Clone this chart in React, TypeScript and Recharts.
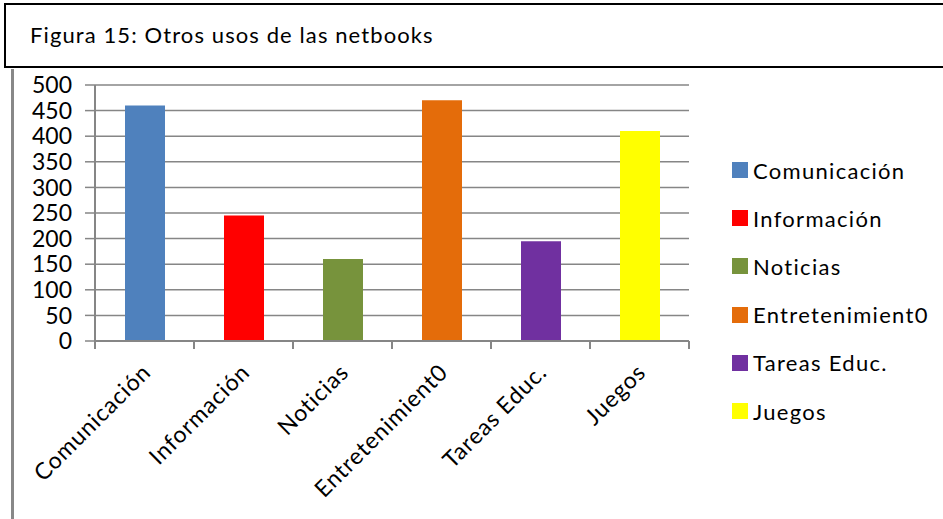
import { BarChart, Bar, XAxis, YAxis, CartesianGrid, Cell } from "recharts";

const CATEGORIES = ["Comunicación", "Información", "Noticias", "Entretenimient0", "Tareas Educ.", "Juegos"];
const VALUES = [460, 245, 160, 470, 195, 410];
const COLORS = ["#4F81BD", "#FF0000", "#77933C", "#E46C0A", "#7030A0", "#FFFF00"];
const Y_TICKS = [0, 50, 100, 150, 200, 250, 300, 350, 400, 450, 500];

const GRID = "#868686";
const FONT = "Lato, 'Open Sans', sans-serif";

const data = CATEGORIES.map((name, i) => ({ name, value: VALUES[i] }));

// Excel style: tick marks sit on the category boundaries, labels turned 45°
function XTick(props: any) {
  const { x, y, payload, index } = props;
  const off = payload?.offset ?? 49.5;
  const last = index === CATEGORIES.length - 1;
  return (
    <g>
      <line x1={x - off} x2={x - off} y1={y - 8} y2={y} stroke={GRID} strokeWidth={2} />
      {last && <line x1={x + off} x2={x + off} y1={y - 8} y2={y} stroke={GRID} strokeWidth={2} />}
      <text
        transform={`translate(${x - 4},${y + 13}) rotate(-45)`}
        textAnchor="end"
        dy="0.72em"
        fontSize={23}
        letterSpacing={0.9}
        fontFamily={FONT}
        fill="#000"
      >
        {payload.value}
      </text>
    </g>
  );
}

export default function App() {
  return (
    <div style={{ position: "absolute", left: 0, top: 0, width: 943, height: 519, background: "#fff", overflow: "hidden", fontFamily: FONT }}>
      <div
        style={{
          position: "absolute", left: 4, top: 3, width: 960, height: 65,
          border: "2px solid #000", boxSizing: "border-box",
        }}
      >
        <span style={{ position: "absolute", left: 24, top: 16, fontSize: 22, letterSpacing: 1.1, color: "#000", whiteSpace: "nowrap" }}>
          Figura 15: Otros usos de las netbooks
        </span>
      </div>
      <div style={{ position: "absolute", left: 11, top: 69, width: 3, height: 450, background: "#888" }} />

      <div style={{ position: "absolute", left: 0, top: 0 }}>
        <BarChart width={943} height={519} data={data} margin={{ top: 85, right: 254, bottom: 0, left: 0 }}>
          <CartesianGrid vertical={false} stroke={GRID} strokeWidth={1.5} />
          <YAxis
            domain={[0, 500]}
            ticks={Y_TICKS}
            width={95}
            tickSize={10}
            tickMargin={13}
            axisLine={{ stroke: GRID, strokeWidth: 2 }}
            tickLine={{ stroke: GRID, strokeWidth: 1.5 }}
            tick={{ fill: "#000", fontSize: 23, fontFamily: FONT }}
            interval={0}
          />
          <XAxis
            dataKey="name"
            height={178}
            tickSize={8}
            tickMargin={0}
            tickLine={false}
            axisLine={{ stroke: GRID, strokeWidth: 2 }}
            tick={<XTick />}
            interval={0}
          />
          <Bar dataKey="value" barSize={40} isAnimationActive={false}>
            {data.map((d, i) => (
              <Cell key={d.name} fill={COLORS[i]} />
            ))}
          </Bar>
        </BarChart>
      </div>

      <div style={{ position: "absolute", left: 732, top: 146 }}>
        {CATEGORIES.map((name, i) => (
          <div key={name} style={{ display: "flex", alignItems: "center", height: 48.2, fontSize: 22, letterSpacing: 1.3, color: "#000", whiteSpace: "nowrap" }}>
            <span style={{ display: "inline-block", width: 16, height: 16, background: COLORS[i], marginRight: 5 }} />
            {name}
          </div>
        ))}
      </div>
    </div>
  );
}
